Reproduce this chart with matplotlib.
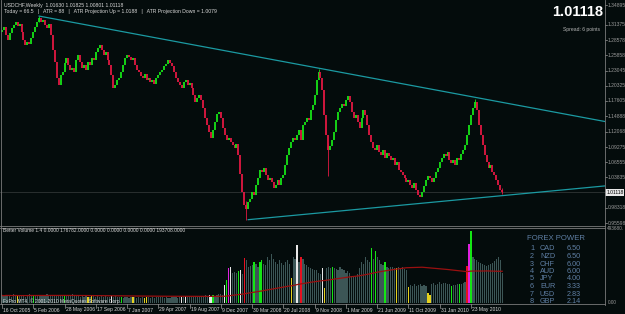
import matplotlib.pyplot as plt
import numpy as np
import pandas as pd

W, H = 625, 314

# weekly closes USDCHF
closes = [
    1.304, 1.309, 1.295, 1.286, 1.299, 1.308, 1.313, 1.318, 1.311, 1.315,
    1.300, 1.286, 1.277, 1.282, 1.279, 1.290, 1.300, 1.309, 1.318, 1.326,
    1.318, 1.322, 1.313, 1.308, 1.315, 1.295, 1.268, 1.246, 1.218, 1.205,
    1.223, 1.228, 1.245, 1.254, 1.241, 1.232, 1.236, 1.228, 1.250, 1.259,
    1.246, 1.236, 1.241, 1.232, 1.246, 1.240, 1.254, 1.250, 1.264, 1.272, 1.277,
    1.268, 1.259, 1.264, 1.250, 1.241, 1.223, 1.200, 1.205, 1.214, 1.218,
    1.228, 1.241, 1.254, 1.259, 1.255, 1.250, 1.254, 1.241, 1.232, 1.228,
    1.221, 1.218, 1.225, 1.214, 1.218, 1.210, 1.214, 1.207, 1.218, 1.223, 1.228,
    1.232, 1.239, 1.243, 1.250, 1.245, 1.239, 1.228, 1.218, 1.210, 1.205,
    1.200, 1.210, 1.214, 1.205, 1.209, 1.200, 1.187, 1.174, 1.182, 1.187,
    1.178, 1.164, 1.146, 1.133, 1.120, 1.110, 1.124, 1.138, 1.153, 1.156,
    1.146, 1.128, 1.115, 1.106, 1.110, 1.102, 1.097, 1.092, 1.099, 1.079,
    1.045, 1.012, 0.988, 0.982, 0.993, 1.000,
    1.012, 1.007, 1.025, 1.038, 1.052, 1.048, 1.056, 1.043, 1.034, 1.038,
    1.030, 1.020, 1.025, 1.034, 1.025, 1.038, 1.043, 1.061, 1.079, 1.092,
    1.102, 1.110, 1.106, 1.115, 1.124, 1.106, 1.133, 1.138, 1.146, 1.142,
    1.160, 1.169, 1.187, 1.214, 1.228, 1.218, 1.196, 1.151, 1.115, 1.088, 1.095,
    1.106, 1.120, 1.142, 1.156, 1.164, 1.171, 1.167, 1.178, 1.185, 1.174,
    1.156, 1.146, 1.151, 1.138, 1.128, 1.146, 1.160, 1.151, 1.133, 1.115,
    1.102, 1.092, 1.088, 1.097, 1.084, 1.079, 1.088, 1.074, 1.083, 1.077,
    1.070, 1.074, 1.061, 1.066, 1.052, 1.048,
    1.043, 1.038, 1.030, 1.034, 1.025, 1.020, 1.029, 1.016, 1.007, 1.002,
    1.012, 1.023, 1.034, 1.041, 1.038, 1.030, 1.038, 1.048, 1.056, 1.066,
    1.074, 1.081, 1.077, 1.084, 1.070, 1.065, 1.070, 1.061, 1.074, 1.070, 1.080,
    1.088, 1.097, 1.115, 1.133, 1.151, 1.164, 1.174, 1.160, 1.133, 1.115,
    1.097, 1.079, 1.066, 1.056, 1.061, 1.048, 1.043, 1.034, 1.025, 1.0163,
    1.01118,
]
first_open = 1.300

# a few visible wicks: bar, low, high
wick_bar = [19, 125, 162, 167, 242, 256]
wick_low = [1.318, 0.962, 1.226, 1.040, 1.172, 1.00801]
wick_high = [1.330, 0.995, 1.233, 1.100, 1.180, 1.01825]

# tick volume (thousands)
volumes = [
    50, 45, 55, 48, 52, 40, 58, 46, 50, 44,
    48, 55, 42, 50, 60, 45, 52, 47, 55, 50,
    45, 52, 48, 58, 50, 44, 55, 49, 53, 46,
    50, 47, 54, 45, 52, 48, 56, 44, 50, 46,
    42, 48, 40, 46, 38, 42, 44, 50, 42, 47, 40,
    44, 40, 46, 38, 42, 45, 39, 43, 41, 37,
    40, 36, 42, 38, 35, 41, 37, 39, 34, 38,
    36, 40, 35, 38, 42, 36, 39, 34, 37, 40, 38,
    38, 35, 40, 36, 33, 39, 37, 41, 35, 38,
    40, 37, 43, 39, 45, 41, 38, 44, 40, 46,
    48, 42, 50, 45, 52, 47, 55, 49, 53, 58,
    60, 52, 118, 150, 230, 237, 197, 204, 200, 210,
    217, 190, 296, 280, 240, 245,
    250, 270, 260, 240, 270,
    280, 260, 250, 300, 280, 320, 290, 270, 260, 280,
    265, 250, 270, 280, 260, 165, 300, 290, 380, 270,
    300, 290, 260, 250, 240, 230, 225, 215, 220, 200,
    190, 230, 100, 230, 235, 232,
    240, 230, 225, 220, 235,
    225, 215, 200, 210, 195, 180, 170, 175, 190, 230,
    270, 260, 300, 280, 270, 360, 290, 340, 300, 280,
    260, 250, 270, 240, 230, 240, 235, 230, 230, 235, 230,
    240, 225, 215, 105, 120, 115, 125, 110, 118, 122,
    112, 120, 115, 66, 55, 125, 130, 120, 128, 135,
    125, 132, 130, 128, 125, 112, 120, 118, 125, 125, 128,
    130, 140, 244, 388, 474, 300, 290, 280, 270, 265,
    255, 250, 245, 250, 255, 262, 275, 290, 300, 285, 200,
]

vol_green = [16, 32, 61, 108, 115, 121, 129, 132, 133, 169, 189, 191, 196, 230, 234, 240]
vol_red = [124, 153, 238]
vol_yellow = [8, 44, 46, 67, 73, 74, 148, 165, 202, 208, 218, 219]
vol_white = [56, 92, 94, 106, 107, 114, 117, 122, 151, 164]
vol_magenta = [116, 239]

# trend lines: (bar, price) anchors
upper_line = [(19, 1.329), (243, 1.182)]
lower_line = [(126, 0.962), (252, 1.004)]

price_labels = ['1.34895', '1.31375', '1.28578', '1.25858', '1.23045', '1.20325',
                '1.17605', '1.14888', '1.12068', '1.09275', '1.06555', '1.03835',
                '0.98318', '0.95598']
date_labels = ['16 Oct 2005', '5 Feb 2006', '28 May 2006', '17 Sep 2006', '7 Jan 2007',
               '29 Apr 2007', '19 Aug 2007', '9 Dec 2007', '30 Mar 2008', '20 Jul 2008',
               '9 Nov 2008', '1 Mar 2009', '21 Jun 2009', '11 Oct 2009', '31 Jan 2010',
               '23 May 2010']

power_cur = ['CAD', 'NZD', 'CHF', 'AUD', 'JPY', 'EUR', 'USD', 'GBP']
power_val = [6.50, 6.50, 6.00, 6.00, 4.00, 3.33, 2.83, 2.14]

BG = '#040c0c'
FONT = 'Liberation Sans'
TXT = '#d8d8d8'
AXC = '#9a9a9a'
UPC, DNC = '#16e416', '#e21842'


def box(x0, y0, x1, y1):
    return [x0 / W, 1 - y1 / H, (x1 - x0) / W, (y1 - y0) / H]


fig = plt.figure(figsize=(W / 100, H / 100), dpi=100, facecolor=BG)

n = len(closes)
idx = np.arange(n)
closes = np.array(closes)
opens = np.r_[first_open, closes[:-1]]
xlim = (-1.02, 308.6)

# ---- price panel
ax = fig.add_axes(box(0, 0, 605, 225))
ax.set_facecolor(BG)
ax.set_xlim(*xlim)
ax.set_ylim(1.358 - 0.0018026 * 225, 1.358)
up = closes >= opens
cols = np.where(up, UPC, DNC)
wcols = [UPC if up[b] else DNC for b in wick_bar]
ax.vlines(wick_bar, wick_low, wick_high, colors=wcols, lw=0.6)
ax.vlines(idx, np.minimum(opens, closes), np.maximum(opens, closes),
          colors=cols, lw=1.3)

# current price line
ax.axhline(closes[-1], color='#2a3030', lw=0.7, zorder=0)

for (x0, y0), (x1, y1) in (upper_line, lower_line):
    slope = (y1 - y0) / (x1 - x0)
    xe = xlim[1]
    ax.plot([x0, xe], [y0, y0 + slope * (xe - x0)], color='#1b9aa2', lw=0.9)

for lab in price_labels:
    v = float(lab)
    ax.text(1.004, v, lab, transform=ax.get_yaxis_transform(), color=AXC,
            fontsize=3.6, family=FONT, va='center', ha='left', clip_on=False)
    ax.plot([1.0, 1.004], [v, v], transform=ax.get_yaxis_transform(),
            color=AXC, lw=0.5, clip_on=False)
ax.text(1.002, closes[-1], '%.5f' % closes[-1], transform=ax.get_yaxis_transform(),
        color='black', fontsize=3.6, family=FONT, va='center', ha='left',
        clip_on=False, bbox=dict(boxstyle='square,pad=0.15', fc='#e8e8e8', ec='none'))

for s in ax.spines.values():
    s.set_visible(False)
ax.set_xticks([])
ax.set_yticks([])

# ---- volume panel
av = fig.add_axes(box(0, 227, 605, 304))
av.set_facecolor(BG)
av.set_xlim(*xlim)
av.set_ylim(-6.6, 500.3)
vcol = ['#3c5656'] * n
for lst, c in ((vol_green, '#14e614'), (vol_red, '#e81020'), (vol_yellow, '#e6d21e'),
               (vol_white, '#e8e8e8'), (vol_magenta, '#e020e0')):
    for i in lst:
        vcol[i] = c
av.bar(idx, volumes, width=0.62, color=vcol, linewidth=0)
ma = pd.Series(volumes, dtype=float).rolling(100, min_periods=1).mean()
av.plot(idx, ma, color='#9a1010', lw=0.9)
for s in av.spines.values():
    s.set_visible(False)
av.set_xticks([])
av.set_yticks([])
av.text(1.004, 493.68, '493680.', transform=av.get_yaxis_transform(), color=AXC,
        fontsize=3.4, family=FONT, va='center', ha='left', clip_on=False)
av.text(1.004, 0, '0.00', transform=av.get_yaxis_transform(), color=AXC,
        fontsize=3.4, family=FONT, va='center', ha='left', clip_on=False)

# ---- frame lines
for x0, y0, x1, y1 in ((605, 0, 605, 305), (0, 304, 605, 304), (0, 225.5, 605, 225.5),
                       (0, 227.5, 605, 227.5), (1, 0, 1, 304)):
    fig.add_artist(plt.Line2D([x0 / W, x1 / W], [1 - y0 / H, 1 - y1 / H],
                              color='#7a7a7a', lw=0.6))

# date axis
for k, lab in enumerate(date_labels):
    xp = 2 + 1.954 * 16 * k
    fig.add_artist(plt.Line2D([xp / W, xp / W], [1 - 304 / H, 1 - 308 / H],
                              color=AXC, lw=0.5))
    fig.text((xp + 1) / W, 1 - 310 / H, lab, color=TXT, fontsize=3.6, family=FONT,
             va='center', ha='left')

# header texts
fig.text(4 / W, 1 - 5 / H, 'USDCHF,Weekly  1.01630 1.01825 1.00801 1.01118',
         color=TXT, fontsize=3.7, family=FONT, va='center')
fig.text(4 / W, 1 - 11 / H,
         'Today = 66.5   |   ATR = 88   |   ATR Projection Up = 1.0188   |   ATR Projection Down = 1.0079',
         color=TXT, fontsize=3.7, family=FONT, va='center')
fig.text(603 / W, 1 - 11.5 / H, '1.01118', color='white', fontsize=10.5,
         family=FONT, weight='bold', ha='right', va='center')
fig.text(600 / W, 1 - 29 / H, 'Spread: 6 points', color='#b8b8b8', fontsize=3.6,
         family=FONT, ha='right', va='center')

fig.text(3 / W, 1 - 231 / H,
         'Better Volume 1.4 0.0000 176782.0000 0.0000 0.0000 0.0000 0.0000 193708.0000',
         color=TXT, fontsize=3.5, family=FONT, va='center')
fig.text(3 / W, 1 - 301 / H, 'FxPro MT4, \u00a9 2001-2010 MetaQuotes Software Corp.',
         color=TXT, fontsize=3.5, family=FONT, va='center')

# forex power table
PC = '#5f7fa4'
fig.text(527 / W, 1 - 239 / H, 'FOREX POWER', color=PC, fontsize=5.6, family=FONT,
         va='center')
for r, (cur, val) in enumerate(zip(power_cur, power_val)):
    yy = 1 - (249 + 7.5 * r) / H
    fig.text(530 / W, yy, str(r + 1), color=PC, fontsize=5.2, family=FONT, va='center')
    fig.text(540 / W, yy, cur, color=PC, fontsize=5.2, family=FONT, va='center')
    fig.text(567 / W, yy, '%.2f' % val, color=PC, fontsize=5.2, family=FONT, va='center')

fig.savefig('out.png', dpi=100, facecolor=BG)
